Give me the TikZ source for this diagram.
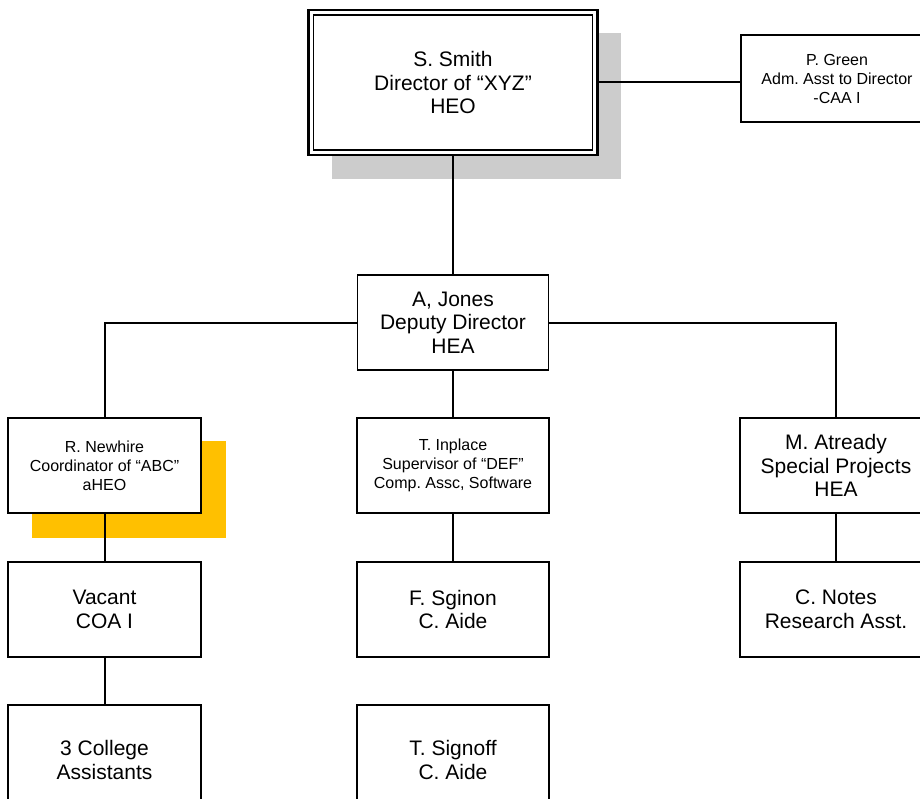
\documentclass[tikz,border=0pt]{standalone}
\usepackage{fontspec}
\setmainfont{Liberation Sans}
\frenchspacing
\definecolor{shadowgray}{RGB}{204,204,204}
\definecolor{shadowgold}{RGB}{255,192,0}
\newcommand{\bigtxt}{\frenchspacing\fontsize{21}{23.5}\selectfont}
\newcommand{\smalltxt}{\frenchspacing\fontsize{16}{19}\selectfont}
\begin{document}
\begin{tikzpicture}[x=1pt,y=-1pt,
  box/.style={draw, line width=1.9pt, rectangle, inner sep=0pt, outer sep=0pt,
    align=center, minimum width=192pt, minimum height=95pt, font=\bigtxt, fill=white},
  smallbox/.style={box, font=\smalltxt},
  conn/.style={line width=2pt}]
\useasboundingbox (0,0) rectangle (920,799);
\clip (0,0) rectangle (920,799);
\fill[white] (0,0) rectangle (920,799);
% shadows
\fill[shadowgray] (332,33) rectangle (621,179);
\fill[shadowgold] (32,441) rectangle (226,538);
% nodes
\node[box, line width=2.3pt, minimum width=289pt, minimum height=145pt] (ss) at (453,82.5) {S. Smith\\Director of “XYZ”\\HEO};
\draw[line width=1.4pt] ([shift={(5pt,-5pt)}]ss.north west) rectangle ([shift={(-5pt,5pt)}]ss.south east);
\node[smallbox, minimum height=87pt] (pg) at (837,78.5) {P. Green\\Adm. Asst to Director\\-CAA I};
\node[box, minimum width=191pt] (aj) at (453,322.5) {A, Jones\\Deputy Director\\HEA};
\node[smallbox, minimum width=193pt] (rn) at (104.5,465.5) {R. Newhire\\Coordinator of “ABC”\\aHEO};
\node[smallbox] (ti) at (453,465.5) {T. Inplace\\Supervisor of “DEF”\\Comp. Assc, Software};
\node[box] (ma) at (836,465.5) {M. Atready\\Special Projects\\HEA};
\node[box, minimum width=193pt] (va) at (104.5,609.5) {Vacant\\COA I};
\node[box] (fs) at (453,609.5) {F. Sginon\\C. Aide};
\node[box] (cn) at (836,609.5) {C. Notes\\Research Asst.};
\node[box, minimum width=193pt, minimum height=110pt] (ca) at (104.5,760) {3 College\\Assistants};
\node[box, minimum height=110pt] (ts) at (453,760) {T. Signoff\\C. Aide};
% connectors
\draw[conn] (ss.south) -- (aj.north);
\draw[conn] (ss.east) -- (ss.east -| pg.west);
\draw[conn] (rn.north) |- (aj.west);
\draw[conn] (ma.north) |- (aj.east);
\draw[conn] (aj.south) -- (ti.north);
\draw[conn] (rn.south) -- (va.north);
\draw[conn] (va.south) -- (ca.north);
\draw[conn] (ti.south) -- (fs.north);
\draw[conn] (ma.south) -- (cn.north);
\end{tikzpicture}
\end{document}
